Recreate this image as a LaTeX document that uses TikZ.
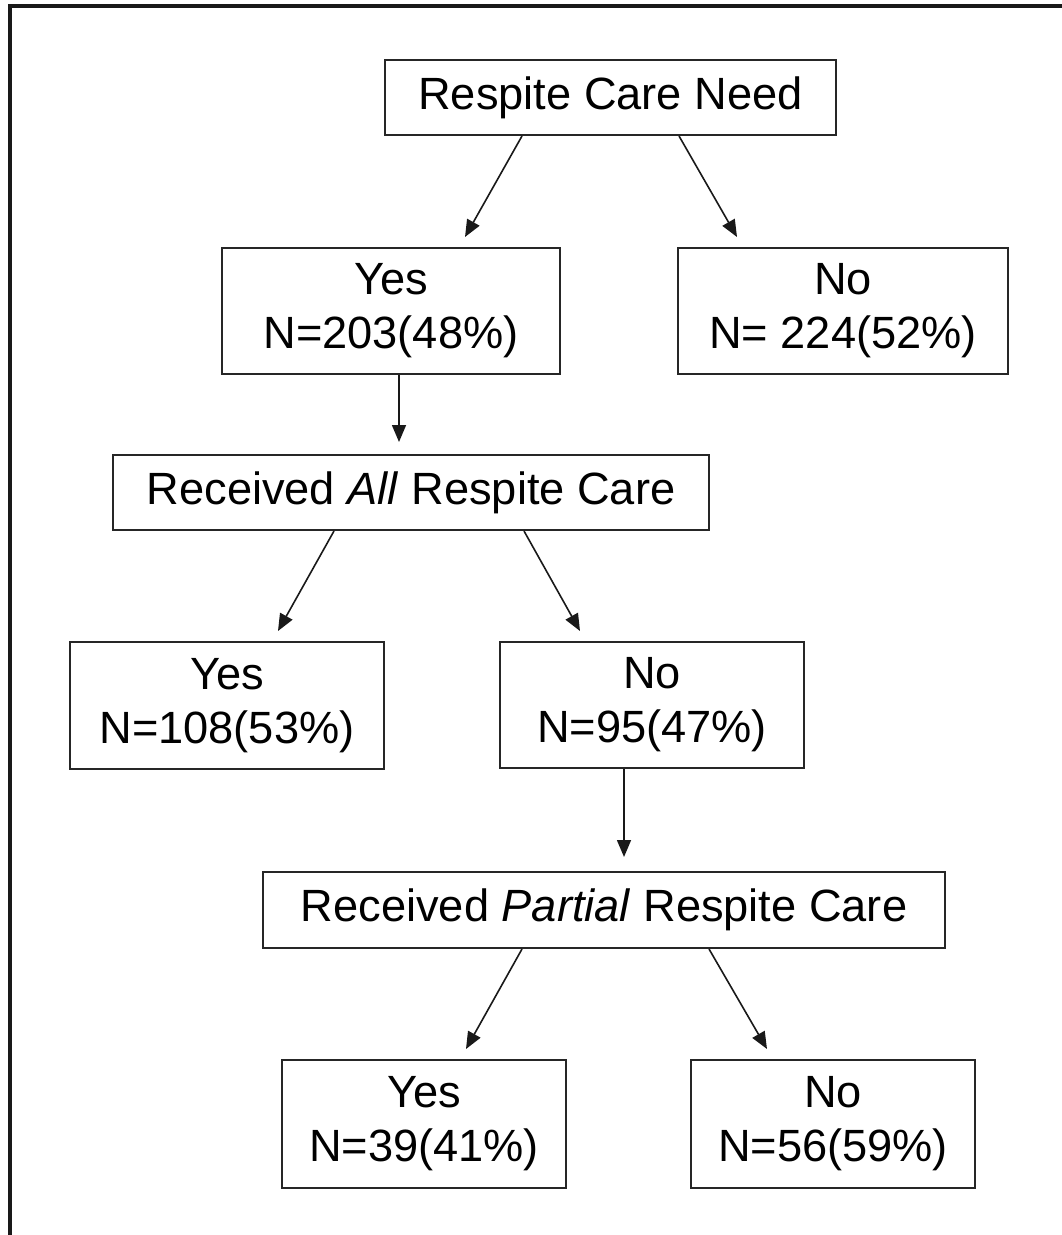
\documentclass[tikz,border=0pt]{standalone}
\usepackage{fontspec}
\setmainfont{Liberation Sans}
\usetikzlibrary{calc,arrows.meta}
\tikzset{
  box/.style={draw=black!85, line width=1pt, rectangle, align=center, inner sep=0pt,
    font=\fontsize{22.6pt}{27pt}\selectfont},
  conn/.style={draw=black!90, line width=0.8pt, -{Triangle[length=8.5pt,width=7pt]}},
  frame/.style={draw=black!90, line width=1.6pt}
}
\begin{document}
\begin{tikzpicture}[x=0.5pt,y=-0.5pt]
\useasboundingbox (0,0) rectangle (1061,1235);
\draw[frame] (10,1240) -- (10,6) -- (1065,6);

\node[box, minimum width=225.5pt, minimum height=37.5pt] (root) at (610.5,97.5) {Respite Care Need};
\node[box, minimum width=169pt, minimum height=63pt] (yes1) at (391,311) {Yes\\N=203(48\%)};
\node[box, minimum width=165pt, minimum height=63pt] (no1) at (843,311) {No\\N= 224(52\%)};
\node[box, minimum width=298pt, minimum height=37.5pt] (ra) at (411,492.5) {Received \textit{All} Respite Care};
\node[box, minimum width=157pt, minimum height=63.5pt] (yes2) at (227,705.5) {Yes\\N=108(53\%)};
\node[box, minimum width=152pt, minimum height=63pt] (no2) at (652,705) {No\\N=95(47\%)};
\node[box, minimum width=341pt, minimum height=38pt] (rp) at (604,910) {Received \textit{Partial} Respite Care};
\node[box, minimum width=142pt, minimum height=64pt] (yes3) at (424,1124) {Yes\\N=39(41\%)};
\node[box, minimum width=142pt, minimum height=64pt] (no3) at (833,1124) {No\\N=56(59\%)};

\draw[conn] ($(root.south)+(-88.5,0)$) -- ($(yes1.north)+(74,-10)$);
\draw[conn] ($(root.south)+(68.5,0)$) -- ($(no1.north)+(-106,-10)$);
\draw[conn] ($(yes1.south)+(8,0)$) -- ($(ra.north)+(-12,-12)$);
\draw[conn] ($(ra.south)+(-77,0)$) -- ($(yes2.north)+(51,-10)$);
\draw[conn] ($(ra.south)+(113,0)$) -- ($(no2.north)+(-72,-10)$);
\draw[conn] ($(no2.south)+(-28,0)$) -- ($(rp.north)+(20,-14)$);
\draw[conn] ($(rp.south)+(-82,0)$) -- ($(yes3.north)+(42,-10)$);
\draw[conn] ($(rp.south)+(105,0)$) -- ($(no3.north)+(-66,-10)$);
\end{tikzpicture}
\end{document}
